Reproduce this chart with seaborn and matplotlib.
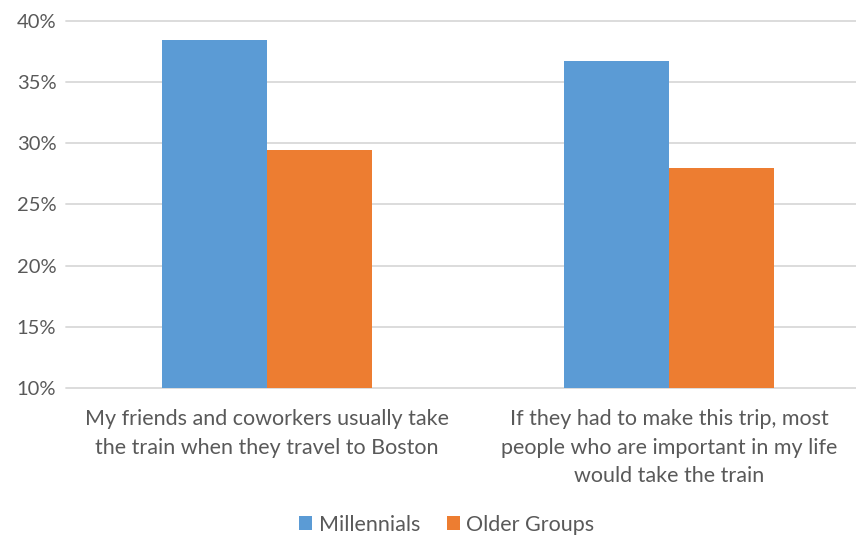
import matplotlib
matplotlib.use("Agg")
import matplotlib.pyplot as plt
import seaborn as sns
import pandas as pd
from matplotlib.patches import Patch

# Survey statements (x categories) and the share of each group that agreed
statements = [
    "My friends and coworkers usually take\nthe train when they travel to Boston",
    "If they had to make this trip, most\npeople who are important in my life\nwould take the train",
]
groups = ["Millennials", "Older Groups"]
millennials = [0.384, 0.367]
older_groups = [0.294, 0.280]
y_ticks = [0.10, 0.15, 0.20, 0.25, 0.30, 0.35, 0.40]
y_tick_labels = ["10%", "15%", "20%", "25%", "30%", "35%", "40%"]

colors = {"Millennials": "#5B9BD5", "Older Groups": "#ED7D31"}
text_color = "#595959"
grid_color = "#D9D9D9"

df = pd.DataFrame({
    "statement": statements * 2,
    "group": [groups[0]] * 2 + [groups[1]] * 2,
    "share": millennials + older_groups,
})

sns.set_theme(style="white")
plt.rcParams["font.family"] = ["Lato", "DejaVu Sans"]

fig = plt.figure(figsize=(8.56, 5.39), dpi=100)
ax = fig.add_axes([0.0771, 0.2801, 0.9229, 0.6815])

sns.barplot(data=df, x="statement", y="share", hue="group", order=statements,
            hue_order=groups, palette=colors, width=0.522, saturation=1,
            errorbar=None, legend=False, ax=ax)
for p in ax.patches:
    p.set_edgecolor("none")

ax.set_ylim(0.10, 0.40)
ax.set_xlim(-0.5, 1.465)
ax.set_yticks(y_ticks)
ax.set_yticklabels(y_tick_labels)
ax.yaxis.grid(True, color=grid_color, linewidth=1.3)
ax.set_axisbelow(True)
for gl in ax.get_ygridlines():
    gl.set_clip_on(False)

for s in ax.spines.values():
    s.set_visible(False)
ax.tick_params(axis="y", length=0, labelsize=14.5, colors=text_color, pad=7)
ax.tick_params(axis="x", length=0, labelsize=15.5, colors=text_color, pad=15)
for lbl in ax.get_xticklabels():
    lbl.set_linespacing(1.55)
ax.set_xlabel("")
ax.set_ylabel("")

handles = [Patch(facecolor=colors[g], edgecolor="none") for g in groups]
fig.legend(handles, groups, loc="lower center", bbox_to_anchor=(0.522, -0.028),
           ncol=2, frameon=False, fontsize=15.5, labelcolor=text_color,
           handlelength=0.6, handleheight=0.6, handletextpad=0.3,
           columnspacing=1.25)

fig.savefig("out.png", dpi=100)
